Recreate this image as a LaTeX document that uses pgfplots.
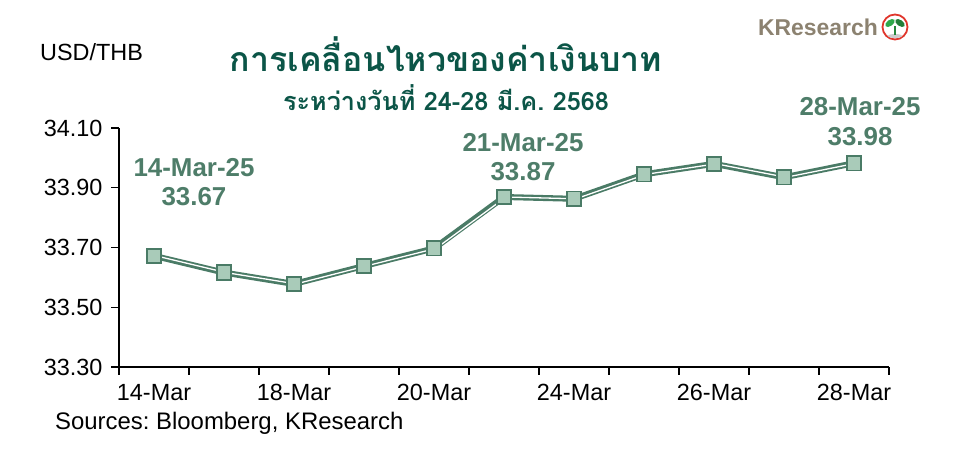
\documentclass[border=0pt]{standalone}
\usepackage{fontspec}
\setmainfont{Liberation Sans}
\newfontfamily\thaifont[Script=Thai]{Loma}
\usepackage{pgfplots}
\usepackage{pgfplotstable}
\pgfplotsset{compat=1.18}
\frenchspacing

\definecolor{lineg}{HTML}{4A7B66}
\definecolor{markfill}{HTML}{A9CBB9}
\definecolor{labelg}{HTML}{4E7D69}
\definecolor{titleg}{HTML}{0B5547}
\definecolor{logogray}{HTML}{8C8270}
\definecolor{logored}{HTML}{E0362C}
\definecolor{leafg}{HTML}{2EA84A}

% USD/THB closes, 14-28 Mar 2025
\pgfplotstableread{
x  y
0  33.672
1  33.616
2  33.578
3  33.638
4  33.697
5  33.869
6  33.863
7  33.945
8  33.980
9  33.935
10 33.982
}\thb

\begin{document}
\begin{tikzpicture}[x=1bp,y=1bp]
\path[use as bounding box] (0,0) rectangle (979,454);
\begin{axis}[
    at={(119bp,87bp)}, anchor=south west,
    scale only axis, width=770bp, height=239bp,
    xmin=-0.5, xmax=10.5,
    ymin=33.3, ymax=34.1,
    axis lines*=left,
    axis line style={black, line width=1.5bp},
    tick align=outside,
    major tick length=8bp,
    tick style={black, line width=1.2bp},
    xtick={-0.5,0.5,...,10.5},
    xticklabels={},
    extra x ticks={0,2,4,6,8,10},
    extra x tick labels={14-Mar,18-Mar,20-Mar,24-Mar,26-Mar,28-Mar},
    extra x tick style={major tick length=0pt, tick style={draw=none}},
    ytick={33.3,33.5,33.7,33.9,34.1},
    yticklabel style={xshift=-5bp, /pgf/number format/.cd, fixed, fixed zerofill, precision=2},
    /pgf/number format/assume math mode=true,
    ticklabel style={font=\fontsize{23.5}{25}\selectfont},
    xticklabel style={yshift=-14bp},
    clip=false,
]
\addplot[lineg, line width=6bp, line join=round] table[x=x,y=y]{\thb};
\addplot[white, line width=1.3bp, xshift=2bp, line join=round] table[x=x,y=y]{\thb};
\addplot[only marks, mark=square*, mark size=7.2bp,
    mark options={fill=markfill, draw=lineg, line width=1.8bp}] table[x=x,y=y]{\thb};
\end{axis}

% titles
\node[font=\thaifont\bfseries\fontsize{34}{36}\selectfont, text=titleg] at (446,400) {การเคลื่อนไหวของค่าเงินบาท};
\node[font=\thaifont\bfseries\fontsize{25.3}{27}\selectfont, text=titleg] at (446,356) {ระหว่างวันที่ 24-28 มี.ค. 2568};
\node[font=\fontsize{23.5}{25}\selectfont, anchor=west, inner sep=0pt] at (40,402) {USD/THB};
\node[font=\fontsize{24}{26}\selectfont, anchor=west, inner sep=0pt] at (55,31) {Sources: Bloomberg, KResearch};

% callouts
\begin{scope}[every node/.style={font=\bfseries\fontsize{26}{28}\selectfont, text=labelg, inner sep=0pt}]
\node at (194,286) {14-Mar-25};
\node at (194,257) {33.67};
\node at (523,311) {21-Mar-25};
\node at (523,282) {33.87};
\node at (860,347) {28-Mar-25};
\node at (860,317) {33.98};
\end{scope}

% logo
\node[font=\bfseries\fontsize{23}{25}\selectfont, text=logogray, anchor=east, inner sep=0pt] at (878,427) {KResearch};
\draw[logored, line width=1.8bp, fill=white] (895,427) circle (12.5);
\fill[gray!40] (895,418) ellipse (7 and 2);
\fill[leafg, rotate around={35:(890,431)}] (890,431) ellipse (5.5 and 3);
\fill[leafg!75!black, rotate around={-35:(900,431)}] (900,431) ellipse (5.5 and 3);
\draw[leafg!80!black, line width=1.6bp] (895,419) -- (895,428);
\end{tikzpicture}
\end{document}
